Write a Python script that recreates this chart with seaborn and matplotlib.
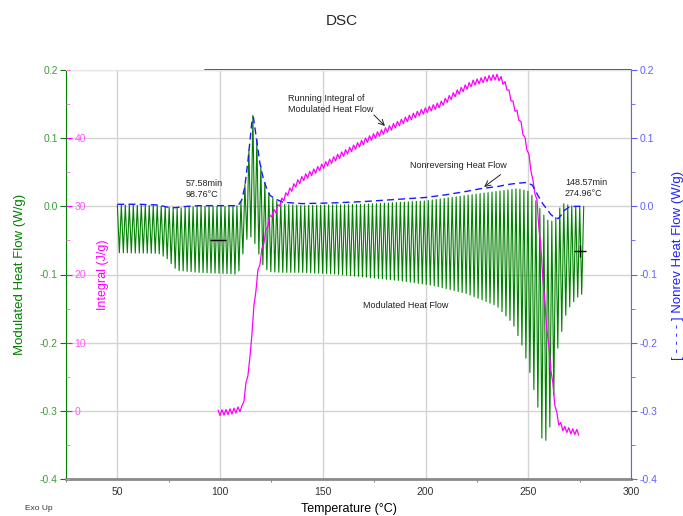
import numpy as np
import pandas as pd
import matplotlib
matplotlib.use('Agg')
import matplotlib.pyplot as plt
import seaborn as sns
from matplotlib.ticker import MultipleLocator, FormatStrFormatter, FixedLocator

# --- values --------------------------------------------------------------
# modulation: 60 s period at ~1.94 C/min -> one half cycle every 0.97 C
HALF_CYCLE = 0.97

# top of the modulated heat flow oscillation (W/g)
top_temp = [50, 70, 78, 90, 106, 108.7, 110.5, 112, 113.6, 115.4, 116.2, 117.8,
            119.4, 121, 122.7, 124.3, 127.5, 130.6, 140, 170, 200, 220, 235,
            245, 250, 253, 256, 259, 262, 264.5, 266, 268, 272, 277.5]
mhf_top = [0.002, 0.001, -0.003, 0.0, 0.0, 0.001, 0.009, 0.03, 0.07, 0.125,
           0.137, 0.1, 0.065, 0.042, 0.026, 0.015, 0.008, 0.003, 0.001, 0.003,
           0.008, 0.016, 0.022, 0.026, 0.022, 0.012, -0.005, -0.02, -0.022,
           -0.012, 0.005, 0.003, 0.0, 0.0]

# bottom of the modulated heat flow oscillation (W/g)
bot_temp = [50, 70, 74, 79, 90, 106, 108.7, 110.5, 112, 113.6, 115.4, 117.8,
            119.4, 121, 122.7, 124.3, 130.6, 140, 155, 171.5, 187.5, 203.6,
            220, 234.7, 242.5, 247.4, 251, 254.7, 256.6, 259, 261.5, 264.4,
            268.8, 273.6, 277.5]
mhf_bottom = [-0.068, -0.069, -0.076, -0.094, -0.097, -0.099, -0.1, -0.08,
              -0.055, -0.045, -0.045, -0.06, -0.075, -0.087, -0.093, -0.096,
              -0.097, -0.097, -0.099, -0.104, -0.109, -0.116, -0.128, -0.146,
              -0.172, -0.207, -0.246, -0.295, -0.34, -0.344, -0.31, -0.207,
              -0.153, -0.134, -0.126]

# nonreversing heat flow (W/g)
nr_temp = [50, 60, 70, 74, 78, 84, 90, 100, 106, 108.7, 110.5, 112, 113.6,
           115.4, 116.2, 117.8, 119.4, 121, 122.7, 124.3, 127.5, 130.6, 140,
           155, 170, 185, 200, 210, 220, 227, 235, 240, 245, 249.3, 252, 254.7,
           257, 259, 261, 263, 264.5, 266, 267.5, 270, 273, 276.6]
nr_flow = [0.003, 0.003, 0.002, -0.001, -0.002, 0.0, 0.001, 0.001, 0.001,
           0.001, 0.009, 0.028, 0.068, 0.122, 0.131, 0.097, 0.063, 0.041,
           0.026, 0.016, 0.010, 0.006, 0.004, 0.005, 0.007, 0.010, 0.013,
           0.017, 0.022, 0.026, 0.029, 0.032, 0.034, 0.035, 0.031, 0.016,
           0.004, -0.004, -0.012, -0.017, -0.018, -0.013, -0.006, -0.001,
           0.0, 0.0]

# running integral of modulated heat flow (J/g), trend through the ripple
int_temp = [99, 103, 107, 111, 112, 113, 114.5, 116, 118, 119.5, 121, 122.8,
            124, 125.5, 127.7, 129, 133, 137.4, 140.3, 150, 157, 165, 173,
            181, 189, 197, 207, 215, 223, 231, 234.7, 237, 239.6, 242.5, 246,
            247.4, 249.3, 251, 252, 254, 255.5, 256.6, 257.5, 259.5, 261.5,
            263, 264.4, 267, 271, 275]
int_vals = [-0.3, -0.2, 0.0, 0.4, 2.6, 4.5, 7.4, 13.7, 19.6, 22.0, 24.5, 26.9,
            28.2, 29.0, 29.6, 30.4, 32.0, 33.4, 34.1, 35.9, 37.2, 38.6, 40.0,
            41.2, 42.5, 43.7, 44.9, 46.6, 48.1, 48.8, 49.0, 48.6, 47.5, 45.1,
            42.6, 40.9, 38.7, 36.3, 33.8, 31.3, 26.0, 22.0, 17.6, 10.7, 4.9,
            1.0, -1.5, -2.6, -3.0, -3.2]
INT_RIPPLE = 0.4

# cursor readouts
cursor_temp = [98.76, 274.96]
cursor_flow = [-0.05, -0.066]

# --- build the modulated traces on the half-cycle grid --------------------
mod_t = np.arange(50.0, 277.5 + 1e-6, HALF_CYCLE)
phase = np.arange(len(mod_t)) % 2 == 0
mhf = np.where(phase, np.interp(mod_t, top_temp, mhf_top),
               np.interp(mod_t, bot_temp, mhf_bottom))
mhf_df = pd.DataFrame({'temp': mod_t, 'flow': mhf})

int_t = np.arange(99.0, 275.0 + 1e-6, HALF_CYCLE)
int_phase = np.where(np.arange(len(int_t)) % 2 == 0, INT_RIPPLE, -INT_RIPPLE)
int_df = pd.DataFrame({'temp': int_t,
                       'integral': np.interp(int_t, int_temp, int_vals) + int_phase})

nr_df = pd.DataFrame({'temp': nr_temp, 'flow': nr_flow})

# --- style ------------------------------------------------------------------
sns.set_style('white')
plt.rcParams['font.family'] = ['Liberation Sans', 'DejaVu Sans']
plt.rcParams['axes.unicode_minus'] = False

GREEN = '#008000'
GREEN_TXT = '#3c9c3c'
MAGENTA = '#ff00ff'
BLUE = '#1a1aff'
BLUE_AX = '#6060ff'

fig = plt.figure(figsize=(6.83, 5.16), dpi=100)
ax = fig.add_axes([66 / 683, 37 / 516, 565 / 683, 409 / 516])
ax_int = ax.twinx()
ax_nr = ax.twinx()

# modulated heat flow
sns.lineplot(data=mhf_df, x='temp', y='flow', ax=ax, color=GREEN, lw=0.8,
             estimator=None, sort=False)
# running integral
sns.lineplot(data=int_df, x='temp', y='integral', ax=ax_int, color=MAGENTA,
             lw=0.9, estimator=None, sort=False)
# nonreversing heat flow
sns.lineplot(data=nr_df, x='temp', y='flow', ax=ax_nr, color=BLUE, lw=1.0,
             estimator=None, sort=False)
ax_nr.lines[-1].set_linestyle((0, (5, 3)))

ax_nr.plot(cursor_temp[:1], cursor_flow[:1], marker='_', ms=11, mew=1,
           color='black', ls='none')
ax_nr.plot(cursor_temp[1:], cursor_flow[1:], marker='+', ms=9, mew=1,
           color='black', ls='none')

# axes limits
for a in (ax, ax_nr):
    a.set_ylim(-0.4, 0.2)
ax.set_xlim(25, 300)
ax_int.set_ylim(-10, 50)

# grid
ax.xaxis.set_major_locator(FixedLocator([50, 100, 150, 200, 250, 300]))
ax.xaxis.set_minor_locator(MultipleLocator(25))
ax.yaxis.set_major_locator(MultipleLocator(0.1))
ax.yaxis.set_major_formatter(FormatStrFormatter('%.1f'))
ax.grid(True, which='major', color='#d4d4d4', lw=1)
ax.set_axisbelow(True)

# spines
ax.spines['left'].set_color(GREEN)
ax.spines['bottom'].set_color('#8a8a8a')
ax.spines['bottom'].set_linewidth(2)
ax.spines['top'].set_color('#e6e6e6')
ax.spines['right'].set_visible(False)
for s in ('left', 'top', 'bottom', 'right'):
    ax_int.spines[s].set_visible(False)
for s in ('left', 'top', 'bottom'):
    ax_nr.spines[s].set_visible(False)
ax_nr.spines['right'].set_color(BLUE_AX)
ax.plot([0.246, 1.0], [1.0, 1.0], transform=ax.transAxes, color='#444444',
        lw=1.3, clip_on=False)

# ticks
ax.tick_params(axis='x', which='major', direction='out', length=4,
               color='#666666', labelsize=7.5, labelcolor='#333333', pad=2)
ax.tick_params(axis='x', which='minor', direction='out', length=2.5,
               color='#666666', bottom=True)
ax.tick_params(axis='y', which='major', direction='out', length=4,
               color=GREEN, labelsize=7.5, labelcolor=GREEN_TXT, pad=2,
               left=True)

ax_int.spines['right'].set_position(('axes', 0.0))
ax_int.yaxis.set_major_locator(FixedLocator([0, 10, 20, 30, 40]))
ax_int.yaxis.set_minor_locator(MultipleLocator(5))
ax_int.tick_params(axis='y', which='major', direction='out', length=4,
                   color=MAGENTA, labelsize=7.5, labelcolor='#ff55ff', pad=2,
                   right=True)
ax_int.tick_params(axis='y', which='minor', direction='out', length=3,
                   color='#ff66ff', right=True)

ax_nr.yaxis.set_major_locator(MultipleLocator(0.1))
ax_nr.yaxis.set_minor_locator(MultipleLocator(0.05))
ax_nr.yaxis.set_major_formatter(FormatStrFormatter('%.1f'))
ax_nr.tick_params(axis='y', which='major', direction='out', length=4,
                  color=BLUE_AX, labelsize=7.5, labelcolor=BLUE_AX, pad=2,
                  right=True)
ax_nr.tick_params(axis='y', which='minor', direction='out', length=3,
                  color=BLUE_AX, right=True)

# labels
ax.set_xlabel('Temperature (°C)', fontsize=9, color='black')
ax.xaxis.set_label_coords(0.5, -0.058)
ax.set_ylabel('Modulated Heat Flow (W/g)', fontsize=9.5, color=GREEN)
ax.yaxis.set_label_coords(-0.071, 0.5)
ax_int.set_ylabel('Integral (J/g)', fontsize=9, color=MAGENTA, rotation=90)
ax_int.yaxis.set_label_coords(0.054, 0.5)
ax_nr.set_ylabel('[ - - - - ] Nonrev Heat Flow (W/g)', fontsize=9.5,
                 color='#2020ff', rotation=90)
ax_nr.yaxis.set_label_coords(1.073, 0.523)

fig.text(0.5, 1 - 21 / 516, 'DSC', ha='center', va='center', fontsize=11)
fig.text(25 / 683, 1 - 508 / 516, 'Exo Up', ha='left', va='center',
         fontsize=6, color='#333333')

# annotations
note = dict(fontsize=6.5, color='#222222')
ax_nr.text(133, 0.150, 'Running Integral of\nModulated Heat Flow', ha='left',
           va='center', linespacing=1.3, **note)
ax_nr.annotate('', xy=(181.2, 0.115), xytext=(173.9, 0.137),
               arrowprops=dict(arrowstyle='->', color='#222222', lw=0.7))
ax_nr.text(192.4, 0.060, 'Nonreversing Heat Flow', ha='left', va='center',
           **note)
ax_nr.annotate('', xy=(227.4, 0.026), xytext=(237.6, 0.049),
               arrowprops=dict(arrowstyle='->', color='#222222', lw=0.7))
ax_nr.text(190.2, -0.146, 'Modulated Heat Flow', ha='center', va='center',
           **note)
ax_nr.text(83.4, 0.026, '57.58min\n98.76°C', ha='left', va='center',
           linespacing=1.3, **note)
ax_nr.text(267.8, 0.027, '148.57min\n274.96°C', ha='left', va='center',
           linespacing=1.3, **note)

fig.savefig('out.png', dpi=100)
